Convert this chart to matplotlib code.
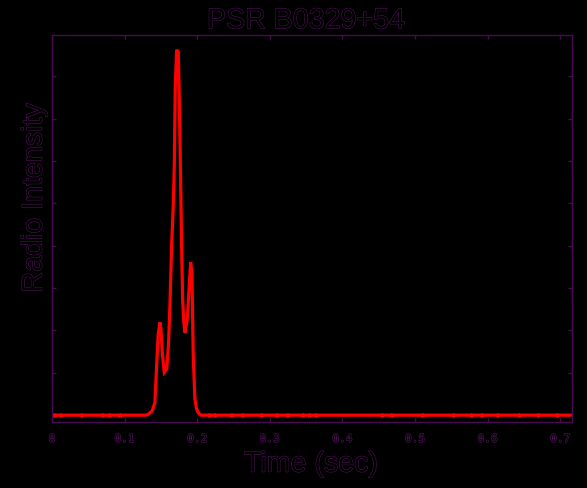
import numpy as np
import matplotlib
matplotlib.use("Agg")
import matplotlib.pyplot as plt
import matplotlib.patheffects as pe

# pulse profile of PSR B0329+54
pulse_t = [0.1300, 0.1325, 0.1380, 0.1417, 0.1441, 0.1462, 0.1486, 0.1500,
           0.1520, 0.1546, 0.1580, 0.1605, 0.1624, 0.1647, 0.1670, 0.1684,
           0.1697, 0.1716, 0.1739, 0.1752, 0.1771, 0.1785, 0.1799, 0.1815,
           0.1831, 0.1863, 0.1885, 0.1909, 0.1927, 0.1945, 0.1968, 0.1990,
           0.2014, 0.2050]
pulse_v = [0.00, 0.02, 0.10, 0.30, 1.17, 1.90, 2.19, 2.05,
           1.45, 1.01, 1.09, 1.70, 2.58, 4.00, 4.95, 5.89,
           7.71, 8.63, 8.57, 7.55, 5.58, 4.00, 2.74, 2.20,
           1.95, 2.27, 2.90, 3.61, 3.37, 1.40, 0.38, 0.15,
           0.06, 0.00]

# off-pulse baseline and the small dips seen in it
base_t = [0.0, 0.125, 0.21, 0.714]
dip_t = [0.004, 0.012, 0.041, 0.070, 0.080, 0.094, 0.217, 0.225, 0.248, 0.263,
         0.289, 0.310, 0.325, 0.346, 0.355, 0.364, 0.455, 0.468, 0.511, 0.553,
         0.578, 0.592, 0.614, 0.644, 0.670, 0.696]
dip_depth = 0.05

x_ticks = [0, 0.1, 0.2, 0.3, 0.4, 0.5, 0.6, 0.7]
x_tick_labels = ["0", "0.1", "0.2", "0.3", "0.4", "0.5", "0.6", "0.7"]
y_ticks = [0, 1, 2, 3, 4, 5, 6, 7, 8]

ink = "#4a0a52"
text_ink = "#5a1464"


def outlined(color=text_ink, lw=0.7):
    """ Hollow glyphs: black fill with a thin coloured stroke. """
    return [pe.withStroke(linewidth=lw, foreground=color)]


# assemble the full trace
pts = {t: v for t, v in zip(base_t, [0.0] * len(base_t))}
for d in dip_t:
    pts[d - 0.0008] = 0.0
    pts[d] = -dip_depth
    pts[d + 0.0008] = 0.0
for t, v in zip(pulse_t, pulse_v):
    pts[t] = v
t_all = np.array(sorted(pts))
v_all = np.array([pts[t] for t in t_all])

fig = plt.figure(figsize=(5.87, 4.89), dpi=100, facecolor="black")
W, H = 587, 489
ax = fig.add_axes([52 / W, 1 - 422.5 / H, (571.7 - 52) / W, (422.5 - 36) / H])
ax.set_facecolor("black")

ax.plot(t_all, v_all, color="#ff0000", lw=2.3, solid_joinstyle="miter")

ax.set_xlim(0, 0.7157)
ax.set_ylim(-0.15, 8.98)

for s in ax.spines.values():
    s.set_color(ink)
    s.set_linewidth(1.0)

ax.set_xticks(x_ticks)
ax.set_xticklabels(x_tick_labels)
ax.set_yticks(y_ticks)
ax.set_yticklabels([])
ax.tick_params(direction="in", length=3, width=1, color=ink,
               top=True, right=True, pad=9)
for lab in ax.get_xticklabels():
    lab.set_fontfamily("DejaVu Sans Mono")
    lab.set_fontsize(8)
    lab.set_color("black")
    lab.set_path_effects(outlined(lw=0.8))

big = dict(family="Liberation Sans", fontsize=20.6, color="black",
           rotation_mode="anchor", path_effects=outlined())
fig.text(306 / W, 1 - 29.3 / H, "PSR B0329+54", ha="center", va="baseline", **big)
fig.text(311 / W, 1 - 472.7 / H, "Time (sec)", ha="center", va="baseline", **big)
fig.text(41.7 / W, 1 - 199 / H, "Radio Intensity", ha="center", va="baseline",
         rotation=90, **big)

fig.savefig("out.png", dpi=100, facecolor="black")
